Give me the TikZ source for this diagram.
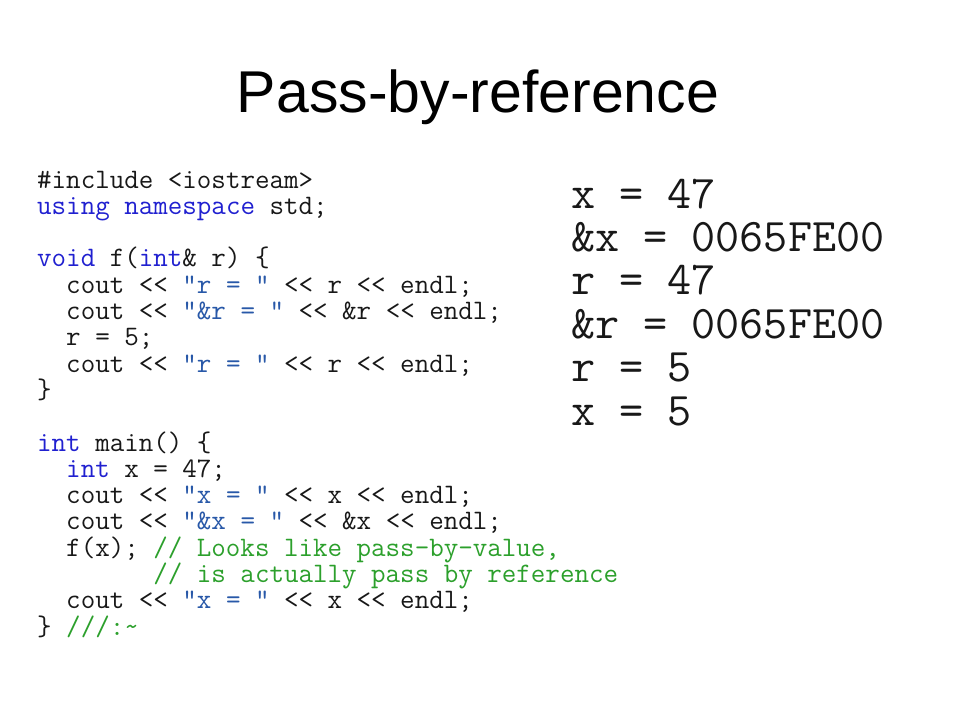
\documentclass[tikz,border=0pt]{standalone}
\usepackage{fontspec}
\setmainfont{Liberation Sans}
\setmonofont{Latin Modern Mono}
\usetikzlibrary{positioning}

\definecolor{kwblue}{RGB}{32,32,208}
\definecolor{litblue}{RGB}{40,88,168}
\definecolor{cmtgreen}{RGB}{44,160,44}
\definecolor{inkgray}{RGB}{24,24,24}

\newcommand{\kwd}[1]{\textcolor{kwblue}{#1}}
\newcommand{\lit}[1]{\textcolor{litblue}{#1}}
\newcommand{\cmnt}[1]{\textcolor{cmtgreen}{#1}}

\begin{document}
\begin{tikzpicture}[x=1pt, y=1pt,
    codeline/.style={anchor=base west, inner sep=0pt, text=inkgray, font=\ttfamily\frenchspacing\fontsize{28.2}{26}\selectfont},
    outline/.style={anchor=base west, inner sep=0pt, text=inkgray, font=\ttfamily\frenchspacing\fontsize{46.8}{43}\selectfont}]
    \fill[white] (0,0) rectangle (960,-720);
    \useasboundingbox (0,0) rectangle (960,-720);

    \node[anchor=base, inner sep=0pt, font=\fontsize{59}{60}\selectfont] (title) at (478,-112) {Pass-by-reference};

    \node[codeline] (c0) at (37,-188) {\#include <iostream>};
    \node[codeline] (c1) at ([yshift=-26.3pt]c0.base west) {\kwd{using} \kwd{namespace} std;};
    \node[codeline] (c3) at ([yshift=-52.6pt]c1.base west) {\kwd{void} f(\kwd{int}\&\ r)\ \{};
    \node[codeline] (c4) at ([yshift=-26.3pt]c3.base west) {\ \ cout << \lit{"r = "} << r << endl;};
    \node[codeline] (c5) at ([yshift=-26.3pt]c4.base west) {\ \ cout << \lit{"\&r = "} << \&r << endl;};
    \node[codeline] (c6) at ([yshift=-26.3pt]c5.base west) {\ \ r = 5;};
    \node[codeline] (c7) at ([yshift=-26.3pt]c6.base west) {\ \ cout << \lit{"r = "} << r << endl;};
    \node[codeline] (c8) at ([yshift=-26.3pt]c7.base west) {\}};
    \node[codeline] (c10) at ([yshift=-52.6pt]c8.base west) {\kwd{int} main()\ \{};
    \node[codeline] (c11) at ([yshift=-26.3pt]c10.base west) {\ \ \kwd{int} x = 47;};
    \node[codeline] (c12) at ([yshift=-26.3pt]c11.base west) {\ \ cout << \lit{"x = "} << x << endl;};
    \node[codeline] (c13) at ([yshift=-26.3pt]c12.base west) {\ \ cout << \lit{"\&x = "} << \&x << endl;};
    \node[codeline] (c14) at ([yshift=-26.3pt]c13.base west) {\ \ f(x); \cmnt{// Looks like pass-by-value,}};
    \node[codeline] (c15) at ([yshift=-26.3pt]c14.base west) {\ \ \ \ \ \ \ \ \cmnt{// is actually pass by reference}};
    \node[codeline] (c16) at ([yshift=-26.3pt]c15.base west) {\ \ cout << \lit{"x = "} << x << endl;};
    \node[codeline] (c17) at ([yshift=-26.3pt]c16.base west) {\}\ \cmnt{///:\textasciitilde}};

    \foreach \txt [count=\i] in {x = 47, \&x = 0065FE00, r = 47, \&r = 0065FE00, r = 5, x = 5}
        \node[outline] (o\i) at (571,{-164.6-43.4*\i}) {\txt};
\end{tikzpicture}
\end{document}
